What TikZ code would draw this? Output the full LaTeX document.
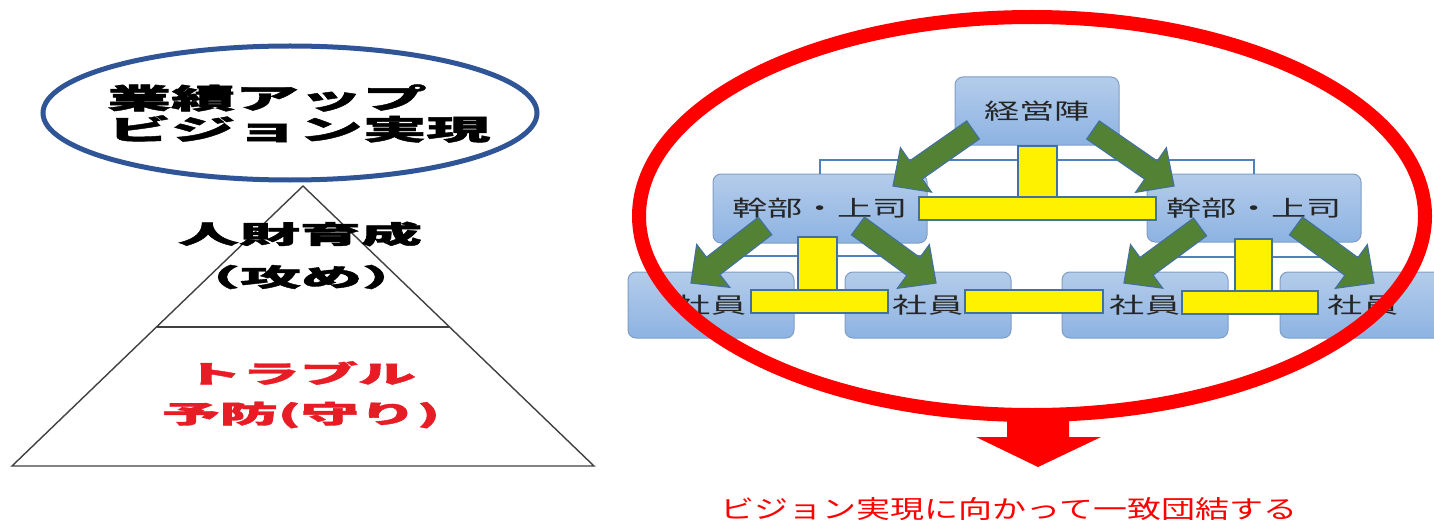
\documentclass[tikz,border=0pt]{standalone}
\usepackage{fontspec}
\usepackage{graphicx}
\newfontfamily\cjk{Noto Sans CJK JP}
\newfontfamily\cjkheavy[BoldFeatures={FakeBold=1.5}]{Noto Sans CJK JP}
\usetikzlibrary{calc}
\definecolor{goalblue}{RGB}{47,85,151}
\definecolor{boxtop}{RGB}{180,204,234}
\definecolor{boxbot}{RGB}{141,179,226}
\definecolor{boxline}{RGB}{127,157,198}
\definecolor{linkblue}{RGB}{79,129,189}
\definecolor{arrowgreen}{RGB}{84,130,53}
\definecolor{edgeblue}{RGB}{65,113,156}
\definecolor{alarm}{RGB}{232,28,36}
\tikzset{
  rank/.style={draw=boxline,line width=0.5pt,rounded corners=4pt,top color=boxtop,bottom color=boxbot,
    font=\cjk\fontsize{11pt}{11pt}\selectfont,text=black!85,inner sep=0pt},
  link/.style={draw=linkblue,line width=1pt},
  bar/.style={fill=yellow,draw=edgeblue,line width=0.6pt},
  garrow/.style={fill=arrowgreen,draw=edgeblue,line width=0.6pt,line join=miter},
  headline/.style={font=\cjkheavy\bfseries\fontsize{14pt}{14pt}\selectfont,inner sep=0pt},
  layer/.style={font=\cjkheavy\bfseries\fontsize{12.5pt}{12.5pt}\selectfont,inner sep=0pt}
}
\newcommand{\wide}[2]{\scalebox{#1}[1]{#2}}
\newcommand{\greenarrow}[2]{%
  \coordinate (neck) at ($(#2)!14pt!(#1)$);
  \filldraw[garrow] ($(#1)!5.5pt!90:(#2)$) -- ($(neck)!5.5pt!-90:(#1)$) -- ($(neck)!13.5pt!-90:(#1)$)
    -- (#2) -- ($(neck)!13.5pt!90:(#1)$) -- ($(neck)!5.5pt!90:(#1)$) -- ($(#1)!5.5pt!-90:(#2)$) -- cycle;}

\begin{document}
\begin{tikzpicture}[x=0.5pt,y=-0.5pt]
  \useasboundingbox (0,0) rectangle (1434,524);
  \clip (0,0) rectangle (1434,524);

  % Pyramid with the goal on top
  \draw[goalblue,line width=2.5pt] (290,113) ellipse [x radius=123.5pt, y radius=33.5pt];
  \node[headline,anchor=west] (goal1) at (107,98)  {\wide{2.28}{業績アップ}};
  \node[headline,anchor=west] (goal2) at (107,129) {\wide{2.28}{ビジョン実現}};
  \draw[line width=0.7pt,black!75] (303,186) -- (594,466) -- (12,466) -- cycle;
  \draw[line width=0.7pt,black!75] (157,327) -- (449,327);
  \node[layer] (grow1) at (300,234) {\wide{2.44}{人財育成}};
  \node[layer] (grow2) at (301,277) {\wide{2.44}{（攻め）}};
  \node[layer,text=alarm] (guard1) at (300,373) {\wide{2.32}{トラブル}};
  \node[layer,text=alarm] (guard2) at (301,415) {\wide{2.32}{予防(守り)}};

  % Organisation chart
  \node[rank,minimum width=82pt,minimum height=34pt]   (board) at (1037,111)  {\wide{1.6}{経営陣}};
  \node[rank,minimum width=107pt,minimum height=34.5pt] (leadL) at (820,208.5) {\wide{1.6}{幹部・上司}};
  \node[rank,minimum width=107pt,minimum height=34pt]   (leadR) at (1254,208)  {\wide{1.6}{幹部・上司}};
  \foreach \n/\x in {staffA/711,staffB/928,staffC/1145,staffD/1363}
    \node[rank,minimum width=83pt,minimum height=33pt] (\n) at (\x,305) {\wide{1.6}{社員}};

  \draw[link] (board.south) -- ++(0,14) -| (leadL.north);
  \draw[link] (board.south) -- ++(0,14) -| (leadR.north);
  \draw[link] (leadL.south) -- ++(0,12) -| (staffA.north);
  \draw[link] (leadL.south) -- ++(0,12) -| (staffB.north);
  \draw[link] (leadR.south) -- ++(0,14) -| (staffC.north);
  \draw[link] (leadR.south) -- ++(0,14) -| (staffD.north);

  % Yellow joints
  \draw[bar] (1018,146) rectangle (1057,197);
  \draw[bar] (919,197) rectangle (1156,220);
  \draw[bar] (798,237) rectangle (837,290);
  \draw[bar] (751,290) rectangle (888,313);
  \draw[bar] (965,290) rectangle (1103,313);
  \draw[bar] (1235,239) rectangle (1272,291);
  \draw[bar] (1182,291) rectangle (1318,314);

  % Green block arrows
  \coordinate (g1) at (973,130);  \coordinate (h1) at (893,186);
  \coordinate (g2) at (1093,130); \coordinate (h2) at (1174,186);
  \coordinate (g3) at (765,226);  \coordinate (h3) at (691,283);
  \coordinate (g4) at (858,226);  \coordinate (h4) at (936,283);
  \coordinate (g5) at (1200,227); \coordinate (h5) at (1124,283);
  \coordinate (g6) at (1296,226); \coordinate (h6) at (1374,283);
  \foreach \i in {1,...,6}
    \greenarrow{g\i}{h\i};

  % Red ring and outcome
  \draw[red,line width=7pt] (1032,216) ellipse [x radius=196.5pt, y radius=99.5pt];
  \fill[red] (1007,408) -- (1069,408) -- (1069,437) -- (1101,437) -- (1038,467)
    -- (976,437) -- (1007,437) -- cycle;
  \node[font=\cjk\fontsize{12.5pt}{12.5pt}\selectfont,text=red,inner sep=0pt] (motto) at (1009,509)
    {\wide{1.36}{ビジョン実現に向かって一致団結する}};
\end{tikzpicture}
\end{document}
